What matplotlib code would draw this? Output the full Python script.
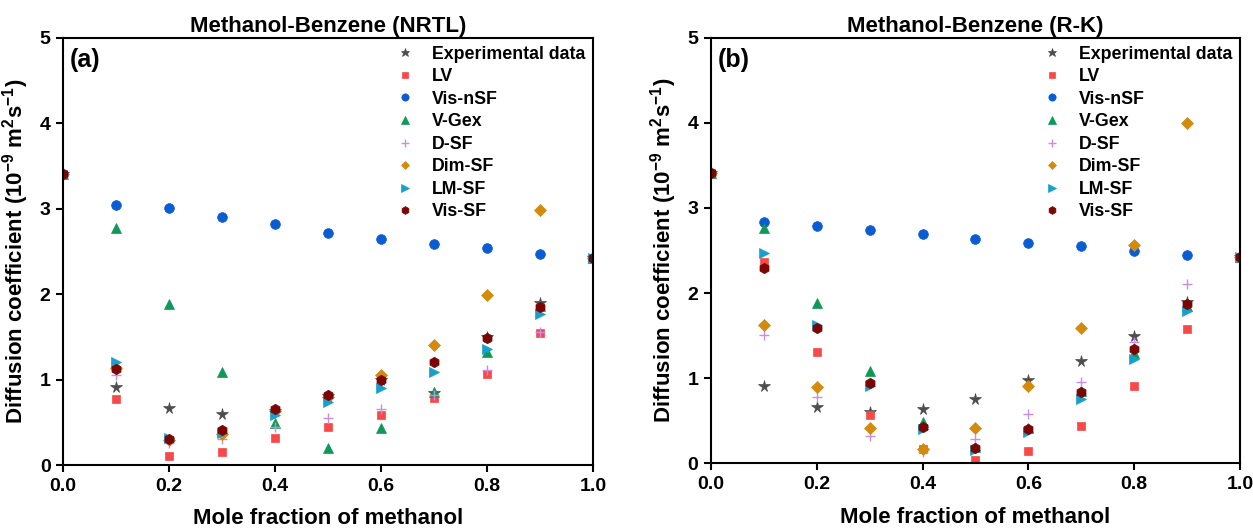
import matplotlib
matplotlib.use("Agg")
import matplotlib.pyplot as plt

plt.rcParams['font.family'] = ['Liberation Sans', 'DejaVu Sans']
plt.rcParams['font.weight'] = 'bold'
plt.rcParams['mathtext.fontset'] = 'custom'
plt.rcParams['mathtext.rm'] = 'Liberation Sans:bold'
plt.rcParams['mathtext.bf'] = 'Liberation Sans:bold'
plt.rcParams['mathtext.it'] = 'Liberation Sans:bold'
plt.rcParams['mathtext.default'] = 'bf'

x = [0.0, 0.1, 0.2, 0.3, 0.4, 0.5, 0.6, 0.7, 0.8, 0.9, 1.0]
series_names = ["Experimental data", "LV", "Vis-nSF", "V-Gex", "D-SF", "Dim-SF", "LM-SF", "Vis-SF"]

# Panel (a): NRTL
exp_a    = [3.41, 0.91, 0.67, 0.60, 0.63, 0.81, 1.00, 0.84, 1.50, 1.89, 2.42]
lv_a     = [3.41, 0.77, 0.105, 0.156, 0.32, 0.445, 0.586, 0.78, 1.07, 1.54, 2.42]
visnsf_a = [3.41, 3.04, 3.01, 2.90, 2.82, 2.72, 2.65, 2.59, 2.54, 2.47, 2.42]
vgex_a   = [3.41, 2.77, 1.88, 1.09, 0.49, 0.20, 0.43, 0.85, 1.32, 1.86, 2.42]
dsf_a    = [3.41, 1.05, 0.26, 0.30, 0.45, 0.55, 0.66, 0.82, 1.11, 1.56, 2.42]
dimsf_a  = [3.41, 1.13, 0.29, 0.36, 0.63, 0.80, 1.05, 1.41, 1.985, 2.98, 2.42]
lmsf_a   = [3.41, 1.21, 0.32, 0.38, 0.59, 0.74, 0.90, 1.09, 1.36, 1.77, 2.42]
vissf_a  = [3.41, 1.125, 0.31, 0.41, 0.65, 0.82, 0.99, 1.21, 1.485, 1.85, 2.42]

# Panel (b): R-K
exp_b    = [3.41, 0.91, 0.66, 0.60, 0.64, 0.76, 0.98, 1.20, 1.50, 1.89, 2.42]
lv_b     = [3.41, 2.36, 1.31, 0.57, 0.17, 0.04, 0.144, 0.44, 0.91, 1.574, 2.42]
visnsf_b = [3.41, 2.84, 2.79, 2.74, 2.695, 2.64, 2.59, 2.55, 2.50, 2.45, 2.42]
vgex_b   = [3.41, 2.77, 1.88, 1.09, 0.49, 0.19, 0.42, 0.85, 1.30, 1.85, 2.42]
dsf_b    = [3.41, 1.51, 0.78, 0.32, 0.13, 0.28, 0.575, 0.95, 1.425, 2.105, 2.42]
dimsf_b  = [3.41, 1.62, 0.90, 0.41, 0.168, 0.41, 0.905, 1.59, 2.57, 4.00, 2.42]
lmsf_b   = [3.41, 2.47, 1.62, 0.91, 0.40, 0.16, 0.37, 0.76, 1.23, 1.79, 2.42]
vissf_b  = [3.41, 2.29, 1.59, 0.94, 0.43, 0.176, 0.405, 0.84, 1.34, 1.87, 2.42]

titles = ["Methanol-Benzene (NRTL)", "Methanol-Benzene (R-K)"]
panel_tags = ["(a)", "(b)"]
x_ticks = [0.0, 0.2, 0.4, 0.6, 0.8, 1.0]
y_ticks = [0, 1, 2, 3, 4, 5]

styles = [
    dict(marker='*', color='#4d4d4d', ms=8.5),
    dict(marker='s', color='#f94848', ms=6.0),
    dict(marker='o', color='#0b5bd3', ms=7.0),
    dict(marker='^', color='#0e9957', ms=7.0),
    dict(marker='+', color='#c98de6', ms=7.5),
    dict(marker='D', color='#d48a0c', ms=6.0),
    dict(marker='>', color='#18a0cc', ms=7.0),
    dict(marker='h', color='#7a0606', ms=7.5),
]

data = [
    [exp_a, lv_a, visnsf_a, vgex_a, dsf_a, dimsf_a, lmsf_a, vissf_a],
    [exp_b, lv_b, visnsf_b, vgex_b, dsf_b, dimsf_b, lmsf_b, vissf_b],
]

fig = plt.figure(figsize=(12.53, 5.30), dpi=100)
axes = [fig.add_axes([0.0503, 0.1226, 0.4230, 0.8063]),
        fig.add_axes([0.5674, 0.1258, 0.4222, 0.8031])]

for ax, dset, title, tag in zip(axes, data, titles, panel_tags):
    for name, vals, st in zip(series_names, dset, styles):
        ax.plot(x, vals, linestyle='none', marker=st['marker'], color=st['color'],
                markersize=st['ms'], markeredgewidth=1.0 if st['marker'] == '+' else 0.5,
                markeredgecolor=st['color'], label=name)
    ax.set_xlim(0, 1)
    ax.set_ylim(0, 5)
    ax.set_xticks(x_ticks)
    ax.set_xticklabels([f"{v:.1f}" for v in x_ticks])
    ax.set_yticks(y_ticks)
    ax.tick_params(axis='both', direction='out', length=5, width=1.5, labelsize=14, pad=4)
    for lab in ax.get_xticklabels() + ax.get_yticklabels():
        lab.set_fontweight('bold')
    for sp in ax.spines.values():
        sp.set_linewidth(1.5)
    ax.set_title(title, fontsize=16, fontweight='bold', pad=4)
    ax.set_xlabel("Mole fraction of methanol", fontsize=16, fontweight='bold', labelpad=10)
    ax.set_ylabel(r"Diffusion coefficient (10$^{-9}$ m$^{2}$s$^{-1}$)",
                  fontsize=16, fontweight='bold', labelpad=6)
    ax.text(0.012, 0.975, tag, transform=ax.transAxes, fontsize=18, fontweight='bold',
            ha='left', va='top')
    ax.legend(loc='upper right', frameon=False, markerscale=0.75,
              handletextpad=0.5, labelspacing=0.31, borderaxespad=0.05,
              prop={'weight': 'bold', 'size': 12.8})

fig.savefig("out.png", dpi=100)
